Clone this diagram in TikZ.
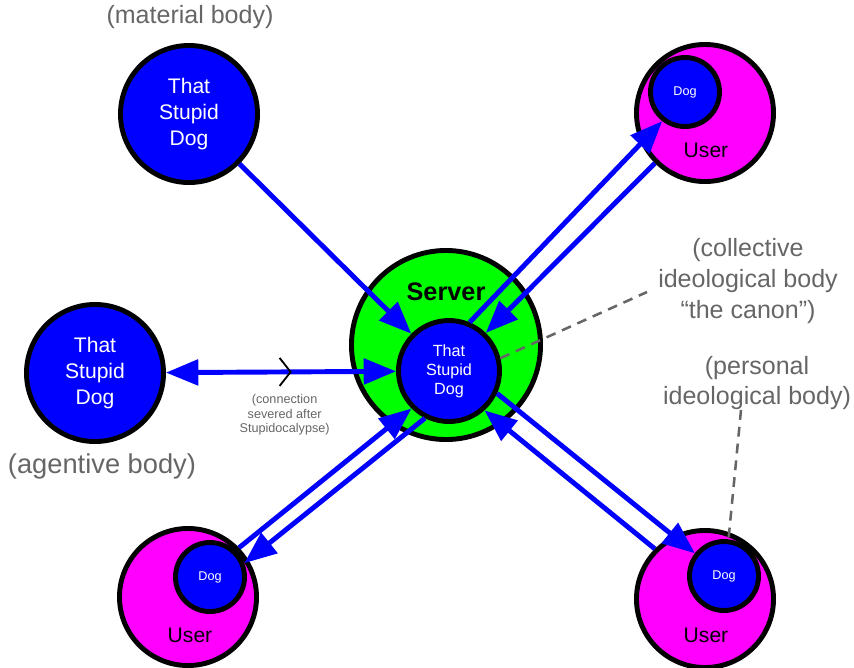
\documentclass[tikz,border=0pt]{standalone}
\usepackage{xcolor}
\usepackage{fontspec}
\setmainfont{Liberation Sans}
\usepackage{tikz}
\usetikzlibrary{calc}
\usetikzlibrary{arrows.meta}

\definecolor{dogblue}{RGB}{0,0,255}
\definecolor{servergreen}{RGB}{0,255,0}
\definecolor{usermagenta}{RGB}{255,0,255}
\definecolor{notegray}{RGB}{102,102,102}

\tikzset{
  body/.style={circle, draw=black, line width=3.5pt, inner sep=0pt, align=center},
  bigdog/.style={body, fill=dogblue, minimum size=3.425cm, text=white,
    font={\fontsize{15}{18.2}\selectfont}},
  userbody/.style={body, fill=usermagenta, minimum size=3.425cm},
  userdog/.style={body, fill=dogblue, minimum size=1.725cm, text=white,
    font={\fontsize{9}{11}\selectfont}},
  serverbody/.style={body, fill=servergreen, minimum size=4.725cm},
  canondog/.style={body, fill=dogblue, minimum size=2.525cm, text=white,
    font={\fontsize{11.5}{13.6}\selectfont}},
  usertext/.style={font={\fontsize{15}{18}\selectfont}},
  servertext/.style={font={\bfseries\fontsize{18}{21}\selectfont}},
  note/.style={text=notegray, align=center, font={\fontsize{17.8}{21.7}\selectfont}},
  smallnote/.style={text=notegray, align=center, font={\fontsize{9}{10.4}\selectfont}},
  >={Triangle[length=23pt,width=18pt]},
  link/.style={draw=dogblue, line width=3.5pt, ->},
  twoway/.style={draw=dogblue, line width=3.5pt, <->},
  pointer/.style={draw=notegray, line width=1.8pt, dash pattern=on 7pt off 5pt},
}

\begin{document}
\begin{tikzpicture}[x=0.025cm,y=-0.025cm]
  \useasboundingbox (0,0) rectangle (854,667);

  % Bodies of the dog
  \node[bigdog] (tldog) at (189,114) {That\\Stupid\\Dog};
  \node[bigdog] (ldog) at (95,373) {That\\Stupid\\Dog};

  % Server with the canon dog
  \node[serverbody] (server) at (446,345) {};
  \node[servertext] (servertxt) at (446,292) {Server};
  \node[canondog] (sdog) at (449,371) {That\\Stupid\\Dog};

  % Users with their dogs
  \node[userbody] (truser) at (705,113) {};
  \node[userdog] (trdog) at (685,92) {Dog};
  \node[usertext] (trusertxt) at (706,150) {User};

  \node[userbody] (bluser) at (188,597) {};
  \node[userdog] (bldog) at (210,577) {Dog};
  \node[usertext] (blusertxt) at (190,635) {User};

  \node[userbody] (bruser) at (705,599) {};
  \node[userdog] (brdog) at (724,576) {Dog};
  \node[usertext] (brusertxt) at (706,635) {User};

  % Connections
  \draw[link] (tldog) -- (sdog);
  \draw[twoway] (ldog) -- coordinate[pos=0.52] (cut) (sdog);
  \draw[line width=1.3pt] ($(cut)+(-6,-14)$) -- ($(cut)+(5,0)$) -- ($(cut)+(-6,14)$);

  \draw[link] (sdog.67) -- (trdog.232);
  \draw[link] (truser.225) -- (sdog.46);

  \draw[link] (bluser.44) -- (sdog.225);
  \draw[link] (sdog.243) -- (bldog.22);

  \draw[link] (sdog.335) -- (brdog.142);
  \draw[link] (bruser.135) -- (sdog.312);

  % Notes
  \node[note] (material) at (190,17) {(material body)};
  \node[note, font={\fontsize{19.4}{22}\selectfont}] (agentive) at (102,466) {(agentive body)};
  \node[note] (collective) at (748,281) {(collective\\ideological body\\“the canon”)};
  \node[note] (personal) at (757,383) {(personal\\ideological body)};
  \node[smallnote] (severed) at ($(cut)+(-1,43)$) {(connection\\severed after\\Stupidocalypse)};

  \coordinate (colltail) at (647,292);
  \coordinate (perstail) at (741,410);
  \draw[pointer] (sdog.14) -- (colltail);
  \draw[pointer] (perstail) -- (brdog.83);
\end{tikzpicture}
\end{document}
